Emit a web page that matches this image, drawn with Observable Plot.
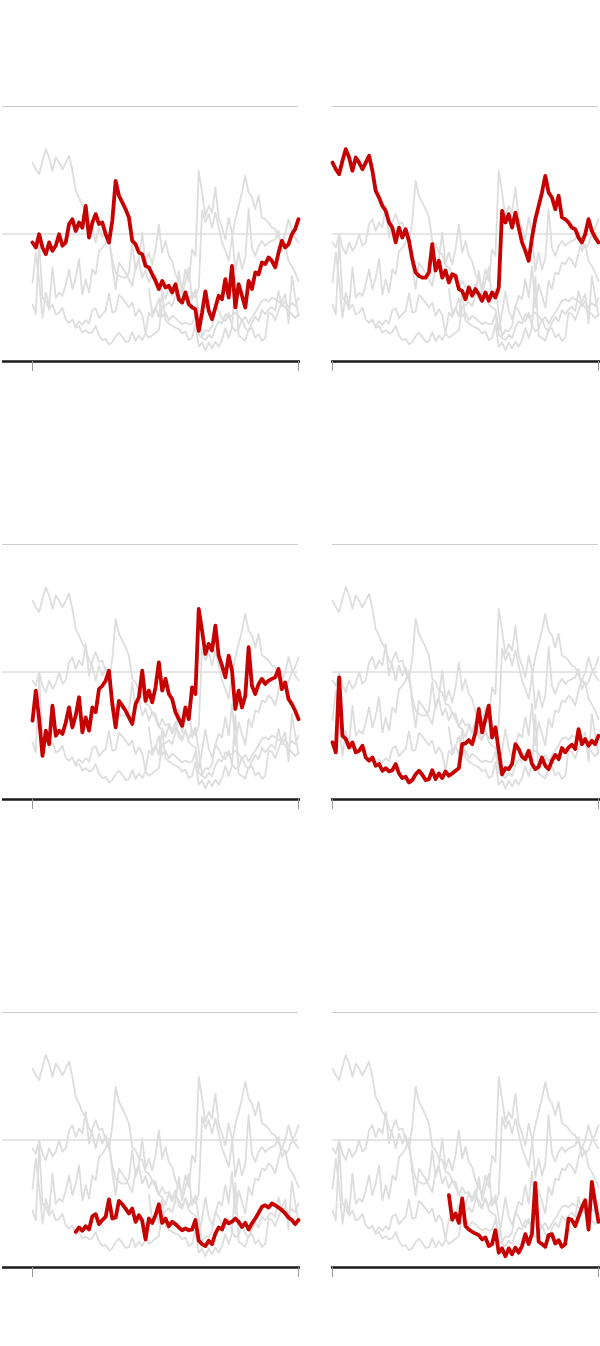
<!DOCTYPE html>
<html>
<head>
<meta charset="utf-8">
<script src="https://cdn.jsdelivr.net/npm/d3@7"></script>
<script src="https://cdn.jsdelivr.net/npm/@observablehq/plot@0.6"></script>
<style>
  html, body { margin: 0; padding: 0; background: #fff; }
  #wrap { position: relative; width: 600px; height: 1346px; overflow: hidden; font-family: "Noto Sans", sans-serif; }
  .panel { position: absolute; }
</style>
</head>
<body>
<div id="wrap"></div>
<script>
// quarterly time grid
const dates = d3.range(81).map(i => 2000 + i / 4);

const seriesNames = ["A", "B", "C", "D", "E", "F"];

const valuesA = [46.7,44.7,49.9,44.7,42.1,46.7,43.4,45.4,49.9,45.4,
  46.7,53.9,55.8,51.2,54.5,52.5,61.0,48.6,54.5,57.8,
  53.9,54.5,49.9,46.7,55.2,70.8,65.0,62.4,59.7,56.5,
  47.3,46.0,42.7,42.1,37.5,36.9,34.2,31.6,28.4,31.6,
  29.0,29.7,27.1,30.3,24.4,23.1,27.1,22.5,21.2,20.5,
  12.0,19.2,27.5,19.9,16.6,21.2,25.8,24.4,32.3,25.1,
  37.5,21.2,30.3,25.8,21.2,31.6,28.4,34.9,34.2,38.8,
  38.2,40.8,39.5,36.9,42.7,47.3,44.7,46.0,49.9,51.9,
  55.8];

const valuesB = [78.0,75.4,73.5,78.7,83.3,80.0,74.8,80.0,78.0,75.4,
  78.0,80.7,74.8,66.9,64.3,61.0,59.1,54.5,52.5,46.7,
  52.5,48.6,51.9,47.3,40.1,34.9,33.6,32.9,32.9,34.9,
  46.0,35.7,39.5,32.9,35.7,31.0,34.2,33.6,28.4,27.7,
  24.4,29.0,25.8,28.4,26.4,23.8,27.1,23.8,27.1,25.1,
  29.0,59.1,54.5,57.8,52.5,58.4,52.5,46.7,43.4,39.5,
  48.6,55.8,61.0,66.3,72.8,66.3,64.3,59.7,65.0,56.5,
  55.8,54.5,52.5,51.9,48.6,46.7,49.9,55.8,51.2,48.6,
  46.7];

const valuesC = [30.9,42.7,31.5,17.1,27.0,21.7,36.8,25.0,27.0,25.7,
  30.2,36.1,28.3,32.9,40.1,26.3,32.2,27.0,36.1,34.2,
  43.3,44.6,46.6,50.5,37.4,28.3,38.7,36.8,34.8,32.2,
  29.6,37.4,40.1,50.5,38.7,42.7,38.1,44.0,53.8,42.7,
  47.3,41.4,39.4,34.2,31.5,28.9,36.1,31.5,44.0,41.4,
  74.7,66.2,57.1,61.0,58.4,68.2,56.4,52.5,47.9,56.4,
  50.5,35.5,42.7,36.1,40.7,59.7,44.6,41.4,45.3,47.3,
  45.3,46.6,47.3,47.9,51.2,43.3,45.9,39.4,37.4,34.8,
  31.5];

const valuesD = [22.4,18.5,47.9,25.0,23.7,20.4,22.4,18.5,19.1,21.1,
  16.5,15.2,16.5,13.2,13.9,11.3,12.3,11.0,11.5,13.9,
  10.2,8.4,8.9,6.7,7.6,9.9,11.3,9.7,7.6,8.0,
  11.5,8.0,10.2,8.4,11.0,9.3,10.2,11.3,12.3,21.7,
  22.0,23.3,21.7,26.3,35.5,26.3,31.5,36.8,24.3,28.3,
  19.1,9.9,12.3,11.9,13.9,21.7,19.8,16.8,15.8,19.1,
  13.9,11.9,12.8,16.5,13.2,11.9,15.2,17.5,15.8,20.2,
  18.5,20.4,21.5,19.8,27.6,21.7,23.7,21.1,23.0,21.7,
  25.0];

const valuesE = [null,null,null,null,null,null,null,null,null,null,
  null,null,null,14.0,15.7,14.4,16.2,14.9,20.1,20.9,
  17.0,18.6,19.9,26.7,19.2,19.6,26.1,24.8,23.1,21.2,
  23.1,17.9,20.5,18.3,11.0,19.2,17.5,20.5,24.8,17.5,
  19.2,16.2,17.9,17.0,15.7,14.6,15.3,14.6,14.9,18.6,
  10.5,9.2,8.4,10.5,9.2,13.3,15.7,14.9,18.6,17.3,
  18.0,19.2,17.9,15.9,17.5,14.9,17.3,19.2,21.4,23.8,
  24.4,23.5,25.1,24.4,23.5,22.5,21.2,19.6,18.6,17.0,
  18.6];

const valuesF = [null,null,null,null,null,null,null,null,null,null,
  null,null,null,null,null,null,null,null,null,null,
  null,null,null,null,null,null,null,null,null,null,
  null,null,null,null,null,28.4,18.8,21.2,17.5,27.1,
  16.2,14.9,14.0,13.3,12.7,11.0,11.8,8.4,9.2,14.6,
  5.8,7.5,4.4,7.5,5.2,7.8,5.8,8.4,13.1,9.2,
  13.3,33.2,10.1,9.2,8.1,12.7,13.1,9.4,10.7,8.1,
  9.2,19.2,18.6,16.2,19.9,23.5,26.4,14.9,33.6,25.4,
  17.9];

const gridValues = [50, 100];
const tickDates = [2000, 2020];

const allValues = [valuesA, valuesB, valuesC, valuesD, valuesE, valuesF];
const data = seriesNames.flatMap((name, k) =>
  allValues[k].map((v, i) => ({series: name, date: dates[i], value: v}))
);

const panelTops = [96, 534, 1002];
const wrap = document.getElementById("wrap");

seriesNames.forEach((name, k) => {
  const col = k % 2;
  const row = Math.floor(k / 2);
  const isLeft = col === 0;
  const chart = Plot.plot({
    width: 300,
    height: 280,
    marginTop: 10,
    marginBottom: 15,
    marginLeft: 32,
    marginRight: 2,
    x: {domain: [2000, 2020], axis: null, label: null},
    y: {domain: [0, 100], axis: null, label: null},
    marks: [
      Plot.ruleY(gridValues, {stroke: "#cccccc", strokeWidth: 1, insetLeft: isLeft ? -30 : 0}),
      Plot.line(data, {x: "date", y: "value", z: "series", stroke: "#dddddd", strokeWidth: 1.8, strokeLinejoin: "round"}),
      Plot.line(data.filter(d => d.series === name), {x: "date", y: "value", stroke: "#c70000", strokeWidth: 3.8, strokeLinejoin: "round", strokeLinecap: "round"}),
      Plot.ruleY([0], {stroke: "#1a1a1a", strokeWidth: 2.6, insetLeft: isLeft ? -30 : -1, insetRight: -2}),
      Plot.axisX({ticks: tickDates, tickSize: 10, tickFormat: () => "", label: null, stroke: "#999", strokeWidth: 1})
    ]
  });
  chart.classList.add("panel");
  chart.style.left = (col * 300) + "px";
  chart.style.top = panelTops[row] + "px";
  chart.style.overflow = "visible";
  wrap.appendChild(chart);
});
</script>
</body>
</html>
